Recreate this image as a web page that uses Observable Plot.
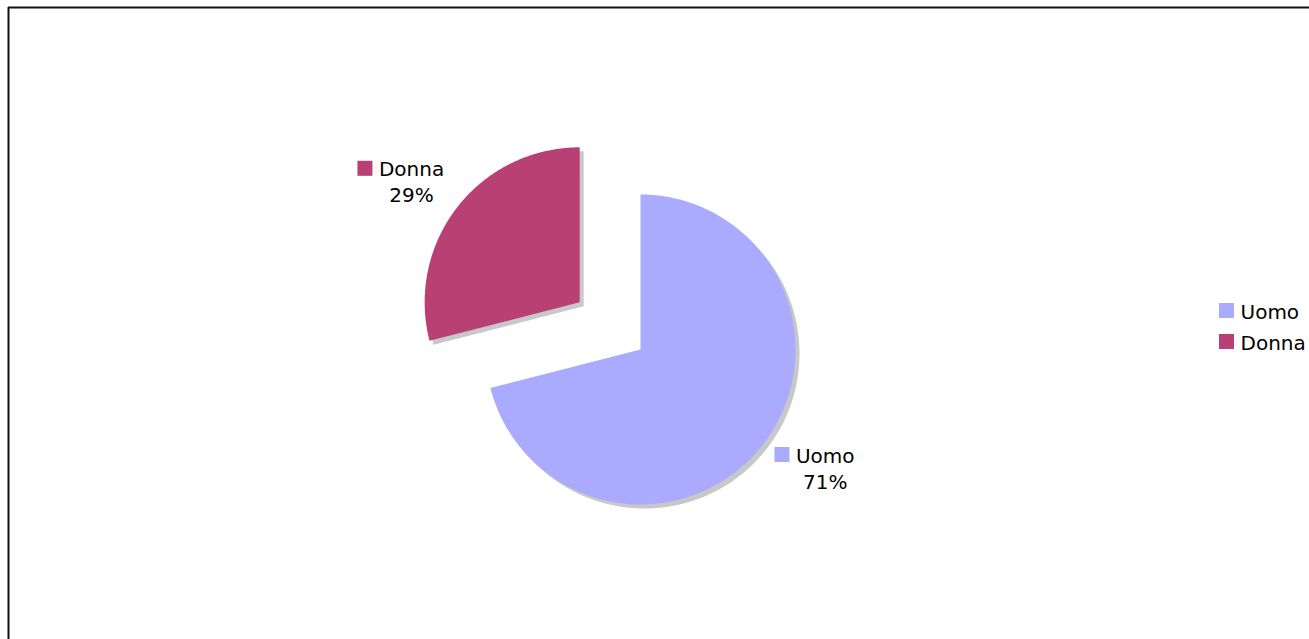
<!DOCTYPE html>
<html>
<head>
<meta charset="utf-8">
<script src="https://cdn.jsdelivr.net/npm/d3@7"></script>
<script src="https://cdn.jsdelivr.net/npm/@observablehq/plot@0.6"></script>
<style>
  html, body { margin: 0; padding: 0; background: #fff; }
  #chart svg { display: block; }
</style>
</head>
<body>
<div id="chart"></div>
<script>
// ---- data ----
const categories = ["Uomo", "Donna"];
const percents = [71, 29];
const colors = ["#aaaaff", "#b94074"];
const exploded = [false, true];

// ---- layout constants ----
const W = 1309, H = 639;
const cx = 640, cy = 349, R = 155, explodeDist = 77;
const FONT = "DejaVu Sans";
const FS = 20;

const ctx = document.createElement("canvas").getContext("2d");
ctx.font = `${FS}px '${FONT}'`;
const tw = s => ctx.measureText(s).width;

const total = d3.sum(percents);
let acc = 0;
const slices = categories.map((name, i) => {
  const a0 = acc / total * 2 * Math.PI;
  acc += percents[i];
  const a1 = acc / total * 2 * Math.PI;
  const mid = (a0 + a1) / 2;
  const ox = exploded[i] ? explodeDist * Math.sin(mid) : 0;
  const oy = exploded[i] ? -explodeDist * Math.cos(mid) : 0;
  const c = [cx + ox, cy + oy];
  const pts = [{x: c[0], y: c[1]}];
  const n = Math.max(2, Math.ceil((a1 - a0) / (Math.PI / 360)));
  for (let k = 0; k <= n; k++) {
    const a = a0 + (a1 - a0) * k / n;
    pts.push({x: c[0] + R * Math.sin(a), y: c[1] - R * Math.cos(a)});
  }
  pts.push({x: c[0], y: c[1]});
  return {name, pct: percents[i], color: colors[i], mid, c, pts};
});

// labels next to slices
const labels = slices.map(s => {
  const px = s.c[0] + R * Math.sin(s.mid);
  const py = s.c[1] - R * Math.cos(s.mid);
  const w = tw(s.name);
  const right = Math.sin(s.mid) > 0;
  const lower = Math.cos(s.mid) < 0;
  let nameStart = right ? px + 33 : px - 13 - w;
  const base = lower ? py + 18 : py - 31;
  return {
    name: s.name, pct: s.pct + "%", color: s.color,
    sx1: nameStart - 21, sx2: nameStart - 6,
    sy1: base - 15, sy2: base,
    nx: nameStart, ny: base,
    pxc: nameStart + w / 2, py: base + 26
  };
});

// legend
const legend = slices.map((s, i) => ({
  name: s.name, color: s.color,
  sx1: 1219, sx2: 1234, sy1: 303 + i * 31, sy2: 318 + i * 31,
  tx: 1240, ty: 318 + i * 31
}));

const marks = [];
// shadows
slices.forEach(s => marks.push(Plot.line(s.pts, {x: "x", y: "y", fill: "#c8c8c8", stroke: "none", dx: 4, dy: 4, curve: "linear"})));
// slices
slices.forEach(s => marks.push(Plot.line(s.pts, {x: "x", y: "y", fill: s.color, stroke: "none", curve: "linear"})));
// slice labels
marks.push(Plot.rect(labels, {x1: "sx1", x2: "sx2", y1: "sy1", y2: "sy2", fill: "color"}));
marks.push(Plot.text(labels, {x: "nx", y: "ny", text: "name", textAnchor: "start", lineAnchor: "bottom", fontSize: FS, fill: "#000"}));
marks.push(Plot.text(labels, {x: "pxc", y: "py", text: "pct", textAnchor: "middle", lineAnchor: "bottom", fontSize: FS, fill: "#000"}));
// legend
marks.push(Plot.rect(legend, {x1: "sx1", x2: "sx2", y1: "sy1", y2: "sy2", fill: "color"}));
marks.push(Plot.text(legend, {x: "tx", y: "ty", text: "name", textAnchor: "start", lineAnchor: "bottom", fontSize: FS, fill: "#000"}));
// frame
marks.push(Plot.ruleY([7], {x1: 8, x2: W, stroke: "#111", strokeWidth: 2}));
marks.push(Plot.ruleX([8], {y1: 7, y2: H, stroke: "#111", strokeWidth: 2}));

const chart = Plot.plot({
  width: W, height: H,
  margin: 0,
  x: {type: "linear", domain: [0, W], range: [0, W], axis: null},
  y: {type: "linear", domain: [0, H], range: [0, H], axis: null},
  style: {fontFamily: FONT, fontSize: FS + "px", background: "#fff"},
  marks
});
document.getElementById("chart").appendChild(chart);
</script>
</body>
</html>
